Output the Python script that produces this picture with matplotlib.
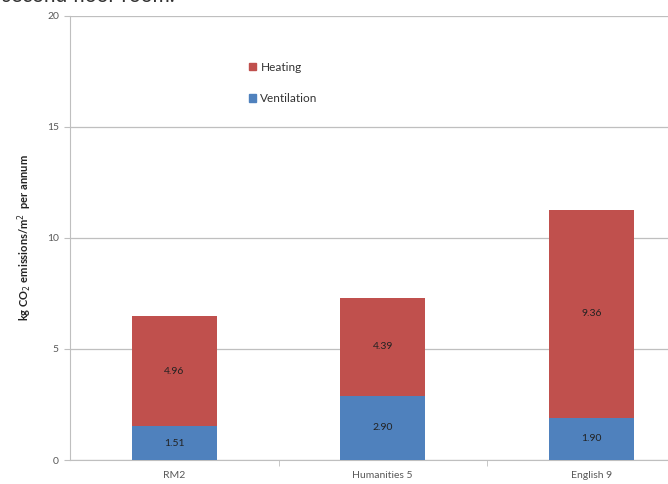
import matplotlib.pyplot as plt
from matplotlib.patches import Patch

# data
rooms = ["RM2", "Humanities 5", "English 9"]
ventilation = [1.51, 2.90, 1.90]
heating = [4.96, 4.39, 9.36]
y_ticks = [0, 5, 10, 15, 20]

red = "#C0504D"
blue = "#4F81BD"
grey = "#595959"

plt.rcParams["font.family"] = ["Lato", "DejaVu Sans"]

fig = plt.figure(figsize=(6.68, 4.84), dpi=100)
W, H = 668, 484
ax = fig.add_axes([70 / W, 24 / H, 625.5 / W, 444 / H])

x = list(range(len(rooms)))
ax.bar(x, ventilation, width=0.41, color=blue, zorder=3)
ax.bar(x, heating, width=0.41, bottom=ventilation, color=red, zorder=3)

for i in x:
    ax.text(i, ventilation[i] / 2, f"{ventilation[i]:.2f}", ha="center", va="center",
            fontsize=7.5, color="#222222", zorder=4)
    ax.text(i, ventilation[i] + heating[i] / 2, f"{heating[i]:.2f}", ha="center", va="center",
            fontsize=7.5, color="#222222", zorder=4)

ax.set_xlim(-0.5, 2.5)
ax.set_ylim(0, 20)
ax.set_yticks(y_ticks)
ax.set_xticks(x)
ax.set_xticklabels(rooms)
ax.set_xticks([0.5, 1.5], minor=True)
ax.tick_params(axis="x", which="major", length=0, pad=8, labelsize=7.5, labelcolor=grey)
ax.tick_params(axis="x", which="minor", length=4, color="#BFBFBF", direction="out")
ax.tick_params(axis="y", length=4, color="#BFBFBF", labelsize=7.5, labelcolor=grey, pad=4)
ax.yaxis.grid(True, color="#BFBFBF", linewidth=0.9, zorder=0)
ax.set_axisbelow(True)

for s in ["top", "right"]:
    ax.spines[s].set_visible(False)
ax.spines["left"].set_color("#BFBFBF")
ax.spines["bottom"].set_color("#BFBFBF")

ax.set_ylabel("kg CO$_2$ emissions/m$^2$  per annum", fontsize=8, fontweight="bold",
              color="#222222", labelpad=9)

handles = [Patch(color=red, label="Heating"), Patch(color=blue, label="Ventilation")]
fig.legend(handles=handles, loc="upper left", bbox_to_anchor=(238 / W, 1 - 51 / H),
           frameon=False, fontsize=8.5, handlelength=0.6, handleheight=0.6,
           handletextpad=0.4, labelspacing=1.75, labelcolor="#333333")

# partially visible caption cut off at the top edge
fig.text(2 / W, 1 - 2 / H, "second floor room.", fontsize=15, color="#333333",
         ha="left", va="baseline")

fig.savefig("out.png", dpi=100)
